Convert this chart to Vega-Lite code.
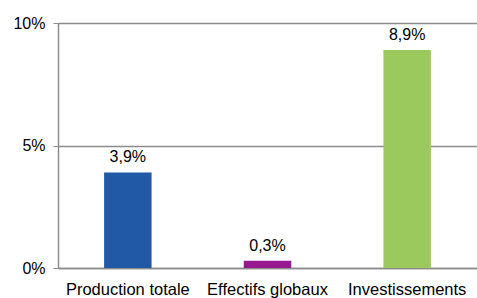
{
  "$schema": "https://vega.github.io/schema/vega-lite/v6.json",
  "autosize": "none",
  "width": 419,
  "height": 245,
  "padding": {"left": 58, "top": 23, "right": 0, "bottom": 30},
  "background": "white",
  "config": {
    "locale": {"number": {"decimal": ",", "thousands": " ", "grouping": [3], "currency": ["", " €"]}},
    "view": {"stroke": null},
    "font": "Liberation Sans"
  },
  "data": {
    "values": [
      {"categorie": "Production totale", "valeur": 0.039},
      {"categorie": "Effectifs globaux", "valeur": 0.003},
      {"categorie": "Investissements", "valeur": 0.089}
    ]
  },
  "encoding": {
    "x": {
      "field": "categorie", "type": "nominal", "sort": null,
      "scale": {"paddingInner": 0.66, "paddingOuter": 0.33},
      "axis": {"title": null, "labelAngle": 0, "labelFontSize": 16.5, "labelColor": "#000", "ticks": false, "labelPadding": 13, "domainColor": "#8c8c8c", "domainWidth": 1.5, "labelFont": "Liberation Sans"}
    },
    "y": {
      "field": "valeur", "type": "quantitative",
      "scale": {"domain": [0, 0.1]},
      "axis": {"title": null, "format": ".0%", "values": [0, 0.05, 0.1], "labelFontSize": 16, "labelColor": "#000", "tickColor": "#8c8c8c", "tickSize": 5, "domainColor": "#8c8c8c", "domainWidth": 1.5, "gridColor": "#8c8c8c", "gridWidth": 1.5, "labelPadding": 8, "labelFont": "Liberation Sans"}
    }
  },
  "layer": [
    {
      "mark": {"type": "bar"},
      "encoding": {
        "color": {
          "field": "categorie", "type": "nominal", "legend": null,
          "scale": {"domain": ["Production totale", "Effectifs globaux", "Investissements"], "range": ["#2159a6", "#97178e", "#9bc95e"]}
        }
      }
    },
    {
      "mark": {"type": "text", "baseline": "bottom", "dy": -7, "fontSize": 16, "font": "Liberation Sans", "color": "#000"},
      "encoding": {
        "text": {"field": "valeur", "type": "quantitative", "format": ".1%"}
      }
    }
  ]
}
